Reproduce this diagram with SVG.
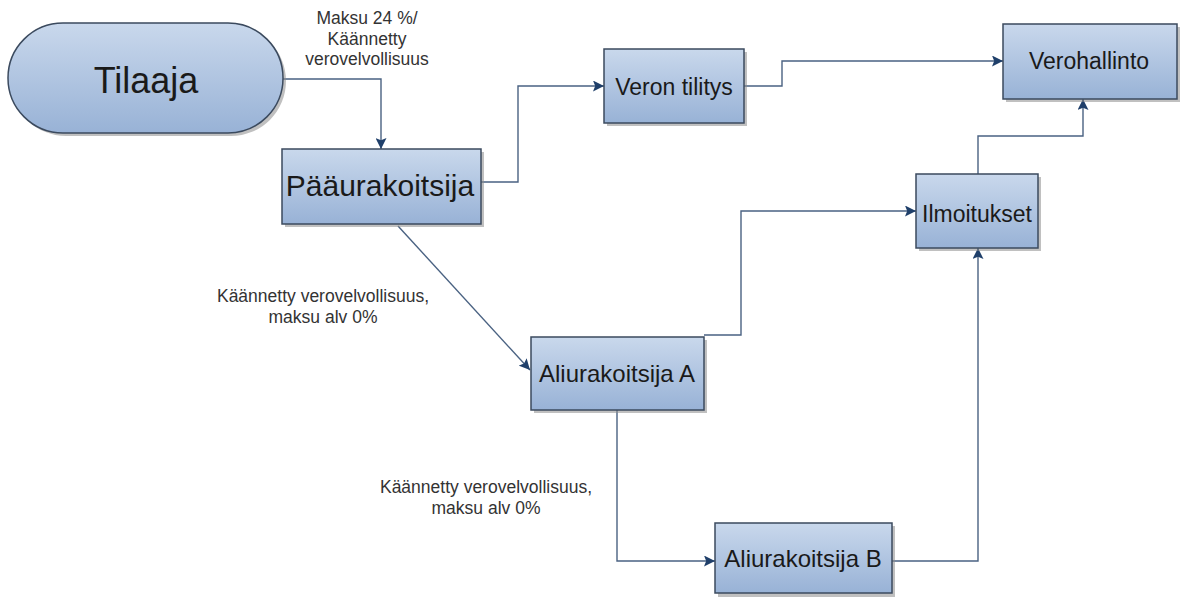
<svg xmlns="http://www.w3.org/2000/svg" width="1184" height="597" viewBox="0 0 1184 597">
<defs>
<linearGradient id="g" x1="0" y1="0" x2="0" y2="1">
<stop offset="0" stop-color="#c9d8ec"/>
<stop offset="1" stop-color="#98b2d6"/>
</linearGradient>
<marker id="ah" viewBox="0 0 10 10" refX="10" refY="5" markerWidth="11" markerHeight="11" markerUnits="userSpaceOnUse" orient="auto">
<path d="M0,0 L10,5 L0,10 L2,5 Z" fill="#1f3f6a"/>
</marker>
</defs>
<style>
.box{fill:url(#g);stroke:#3b4a5e;stroke-width:1.5}
.sh{fill:#8c8c8c;opacity:0.55}
.t{font-family:"Liberation Sans",Arial,sans-serif;fill:#1a1a1a;text-anchor:middle}
.lbl{font-family:"Liberation Sans",Arial,sans-serif;fill:#333;text-anchor:middle;font-size:17.5px}
.c{fill:none;stroke:#4a6282;stroke-width:1.4}
.ca{fill:none;stroke:#4a6282;stroke-width:1.4;marker-end:url(#ah)}
</style>
<rect width="1184" height="597" fill="#ffffff"/>

<g id="connectors">
<path class="ca" d="M283,79 H381 V149"/>
<path class="ca" d="M481,182 H518 V86 H604"/>
<path class="ca" d="M744,86 H782 V61 H1003"/>
<path class="ca" d="M978,174 V136 H1083 V99"/>
<path class="ca" d="M398,226 L530,370"/>
<path class="ca" d="M704,335 H741 V211 H916"/>
<path class="ca" d="M617,410 V561 H715"/>
<path class="ca" d="M892,561 H978 V248"/>
</g>

<g id="labels">
<text class="lbl" x="367" y="24">Maksu 24 %/</text>
<text class="lbl" x="367" y="44.5">Käännetty</text>
<text class="lbl" x="367" y="65">verovelvollisuus</text>
<text class="lbl" x="323" y="302">Käännetty verovelvollisuus,</text>
<text class="lbl" x="323" y="323">maksu alv 0%</text>
<text class="lbl" x="486" y="493">Käännetty verovelvollisuus,</text>
<text class="lbl" x="486" y="514">maksu alv 0%</text>
</g>

<g id="tilaaja">
<rect class="sh" x="11" y="26" width="275" height="110" rx="55"/>
<rect class="box" x="8" y="23" width="275" height="110" rx="55"/>
<text class="t" x="146" y="93" font-size="36">Tilaaja</text>
</g>

<g id="paaurakoitsija">
<rect class="sh" x="285" y="152" width="199" height="75"/>
<rect class="box" x="282" y="149" width="199" height="75"/>
<text class="t" x="380" y="196" font-size="30">Pääurakoitsija</text>
</g>

<g id="veron-tilitys">
<rect class="sh" x="607" y="52" width="140" height="74"/>
<rect class="box" x="604" y="49" width="140" height="74"/>
<text class="t" x="674" y="95" font-size="23">Veron tilitys</text>
</g>

<g id="verohallinto">
<rect class="sh" x="1006" y="27" width="174" height="75"/>
<rect class="box" x="1003" y="24" width="174" height="75"/>
<text class="t" x="1089" y="69" font-size="23">Verohallinto</text>
</g>

<g id="ilmoitukset">
<rect class="sh" x="919" y="177" width="122" height="74"/>
<rect class="box" x="916" y="174" width="122" height="74"/>
<text class="t" x="977" y="222" font-size="23">Ilmoitukset</text>
</g>

<g id="aliurakoitsija-a">
<rect class="sh" x="534" y="340" width="173" height="73"/>
<rect class="box" x="531" y="337" width="173" height="73"/>
<text class="t" x="617" y="382" font-size="24">Aliurakoitsija A</text>
</g>

<g id="aliurakoitsija-b">
<rect class="sh" x="718" y="526" width="177" height="72"/>
<rect class="box" x="715" y="523" width="177" height="70"/>
<text class="t" x="803" y="567" font-size="24">Aliurakoitsija B</text>
</g>
</svg>
